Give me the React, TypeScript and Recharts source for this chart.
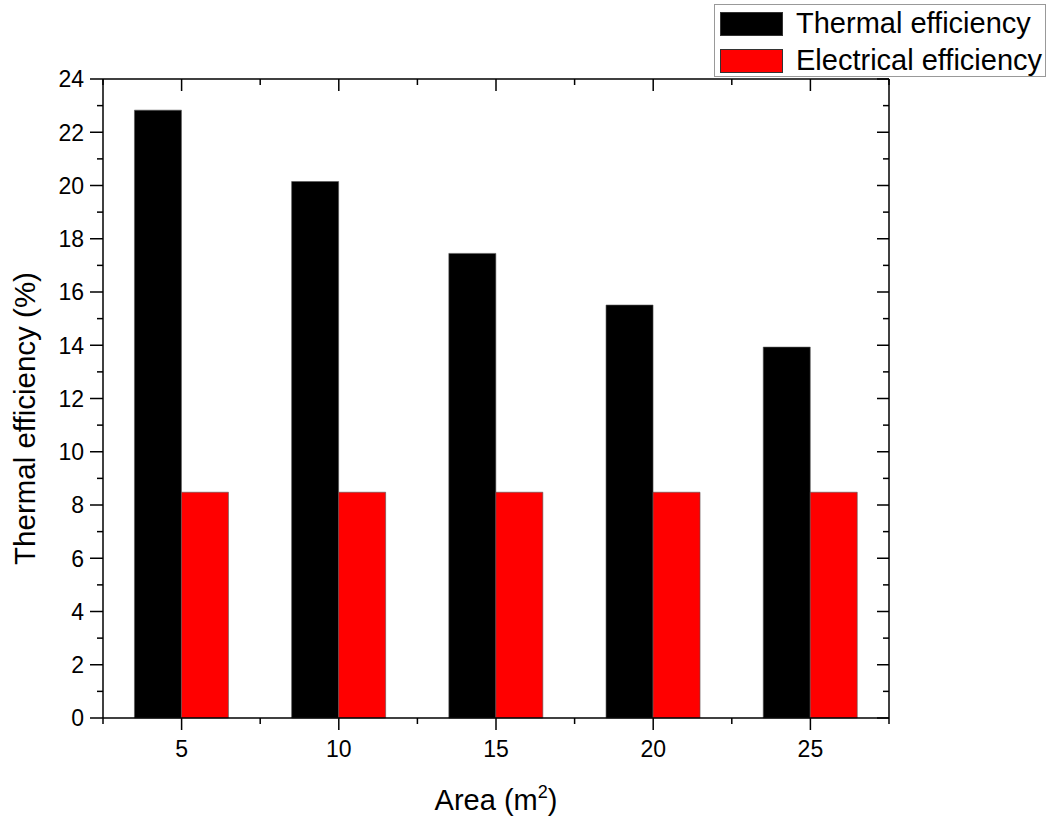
import React from "react";
import { ComposedChart, Bar, Line, XAxis, YAxis, Legend } from "recharts";

const areas = ["5", "10", "15", "20", "25"];
const thermalEff = [22.83, 20.15, 17.45, 15.51, 13.93];
const electricalEff = [8.48, 8.48, 8.48, 8.48, 8.48];
const yTicks = [0, 1, 2, 3, 4, 5, 6, 7, 8, 9, 10, 11, 12, 13, 14, 15, 16, 17, 18, 19, 20, 21, 22, 23, 24];
const seriesNames = ["Thermal efficiency", "Electrical efficiency"];
const seriesColors = ["#000000", "#ff0000"];

const data = areas.map((a, i) => ({
  area: a,
  thermal: thermalEff[i],
  electrical: electricalEff[i],
}));

const FONT = "'Liberation Sans', Arial, sans-serif";

// left axis: ticks point out, labels on even values
const LeftTick = (props: any) => {
  const { x, y, payload } = props;
  const major = payload.value % 2 === 0;
  return (
    <g>
      <line x1={x - (major ? 13 : 6)} x2={x} y1={y} y2={y} stroke="#000" strokeWidth={1.5} />
      {major && (
        <text x={x - 19} y={y} dy="0.36em" textAnchor="end" fontSize={23} fill="#000" fontFamily={FONT}>
          {payload.value}
        </text>
      )}
    </g>
  );
};

// right axis: ticks point in
const RightTick = (props: any) => {
  const { x, y, payload } = props;
  const major = payload.value % 2 === 0;
  return <line x1={x - (major ? 12 : 6)} x2={x} y1={y} y2={y} stroke="#000" strokeWidth={1.5} />;
};

const BottomTick = (props: any) => {
  const { x, y, payload, index } = props;
  const half = payload.offset || 78.6;
  return (
    <g>
      <line x1={x} x2={x} y1={y} y2={y + 12} stroke="#000" strokeWidth={1.5} />
      <line x1={x - half} x2={x - half} y1={y} y2={y + 6} stroke="#000" strokeWidth={1.5} />
      {index === areas.length - 1 && (
        <line x1={x + half} x2={x + half} y1={y} y2={y + 6} stroke="#000" strokeWidth={1.5} />
      )}
      <text x={x} y={y + 39} textAnchor="middle" fontSize={23} fill="#000" fontFamily={FONT}>
        {payload.value}
      </text>
    </g>
  );
};

// top axis: ticks point in (down)
const TopTick = (props: any) => {
  const { x, y, payload, index } = props;
  const half = payload.offset || 78.6;
  return (
    <g>
      <line x1={x} x2={x} y1={y} y2={y + 12} stroke="#000" strokeWidth={1.5} />
      <line x1={x - half} x2={x - half} y1={y} y2={y + 6} stroke="#000" strokeWidth={1.5} />
      {index === areas.length - 1 && (
        <line x1={x + half} x2={x + half} y1={y} y2={y + 6} stroke="#000" strokeWidth={1.5} />
      )}
    </g>
  );
};

const LegendBox = () => (
  <div
    style={{
      border: "1px solid #999",
      background: "#fff",
      width: 332,
      height: 73,
      boxSizing: "border-box",
      padding: "0 0 0 5px",
      fontFamily: FONT,
    }}
  >
    {seriesNames.map((name, i) => (
      <div key={name} style={{ display: "flex", alignItems: "center", height: 37 }}>
        <div style={{ width: 63, height: 24, background: seriesColors[i], border: "1px solid #333", boxSizing: "border-box" }} />
        <span style={{ fontSize: 29, marginLeft: 13, color: "#000", lineHeight: "29px", whiteSpace: "nowrap" }}>{name}</span>
      </div>
    ))}
  </div>
);

export default function App() {
  return (
    <div style={{ position: "absolute", left: 0, top: 0, background: "#fff" }}>
      <ComposedChart
        width={1050}
        height={818}
        data={data}
        margin={{ top: 78, right: 160, bottom: 0, left: 0 }}
        barCategoryGap="20%"
        barGap={0}
      >
        <XAxis
          dataKey="area"
          height={100}
          tickSize={0}
          tickMargin={0}
          tickLine={false}
          interval={0}
          axisLine={{ stroke: "#000", strokeWidth: 1.5 }}
          tick={<BottomTick />}
          label={(p: any) => {
            const vb = p.viewBox;
            return (
              <text x={vb.x + vb.width / 2} y={vb.y + 92} textAnchor="middle" fontSize={29} fill="#000" fontFamily={FONT}>
                Area (m<tspan dy={-12} fontSize={18}>2</tspan><tspan dy={12}>)</tspan>
              </text>
            );
          }}
        />
        <XAxis
          xAxisId="top"
          dataKey="area"
          orientation="top"
          height={1}
          tickSize={0}
          tickMargin={0}
          tickLine={false}
          interval={0}
          axisLine={{ stroke: "#000", strokeWidth: 1.5 }}
          tick={<TopTick />}
        />
        <YAxis
          width={103}
          domain={[0, 24]}
          ticks={yTicks}
          interval={0}
          tickSize={0}
          tickMargin={0}
          tickLine={false}
          axisLine={{ stroke: "#000", strokeWidth: 1.5 }}
          tick={<LeftTick />}
          label={(p: any) => {
            const vb = p.viewBox;
            const cx = 35;
            const cy = vb.y + vb.height / 2 + 20;
            return (
              <text x={cx} y={cy} transform={`rotate(-90 ${cx} ${cy})`} textAnchor="middle" fontSize={29.5} fill="#000" fontFamily={FONT}>
                Thermal efficiency (%)
              </text>
            );
          }}
        />
        <YAxis
          yAxisId="right"
          orientation="right"
          width={1}
          domain={[0, 24]}
          ticks={yTicks}
          interval={0}
          tickSize={0}
          tickMargin={0}
          tickLine={false}
          axisLine={{ stroke: "#000", strokeWidth: 1.5 }}
          tick={<RightTick />}
        />
        <Legend
          layout="horizontal"
          verticalAlign="middle"
          align="center"
          content={<LegendBox />}
          wrapperStyle={{ position: "absolute", left: 714, top: 4, width: 332, height: 73 }}
        />
        <Bar dataKey="thermal" name={seriesNames[0]} fill={seriesColors[0]} stroke="#555" strokeWidth={0.6} isAnimationActive={false} />
        <Bar dataKey="electrical" name={seriesNames[1]} fill={seriesColors[1]} stroke="#555" strokeWidth={0.6} isAnimationActive={false} />
        {/* invisible series so the top and right frame axes get drawn */}
        <Line
          xAxisId="top"
          yAxisId="right"
          dataKey="thermal"
          stroke="none"
          dot={false}
          activeDot={false}
          legendType="none"
          isAnimationActive={false}
        />
      </ComposedChart>
    </div>
  );
}
